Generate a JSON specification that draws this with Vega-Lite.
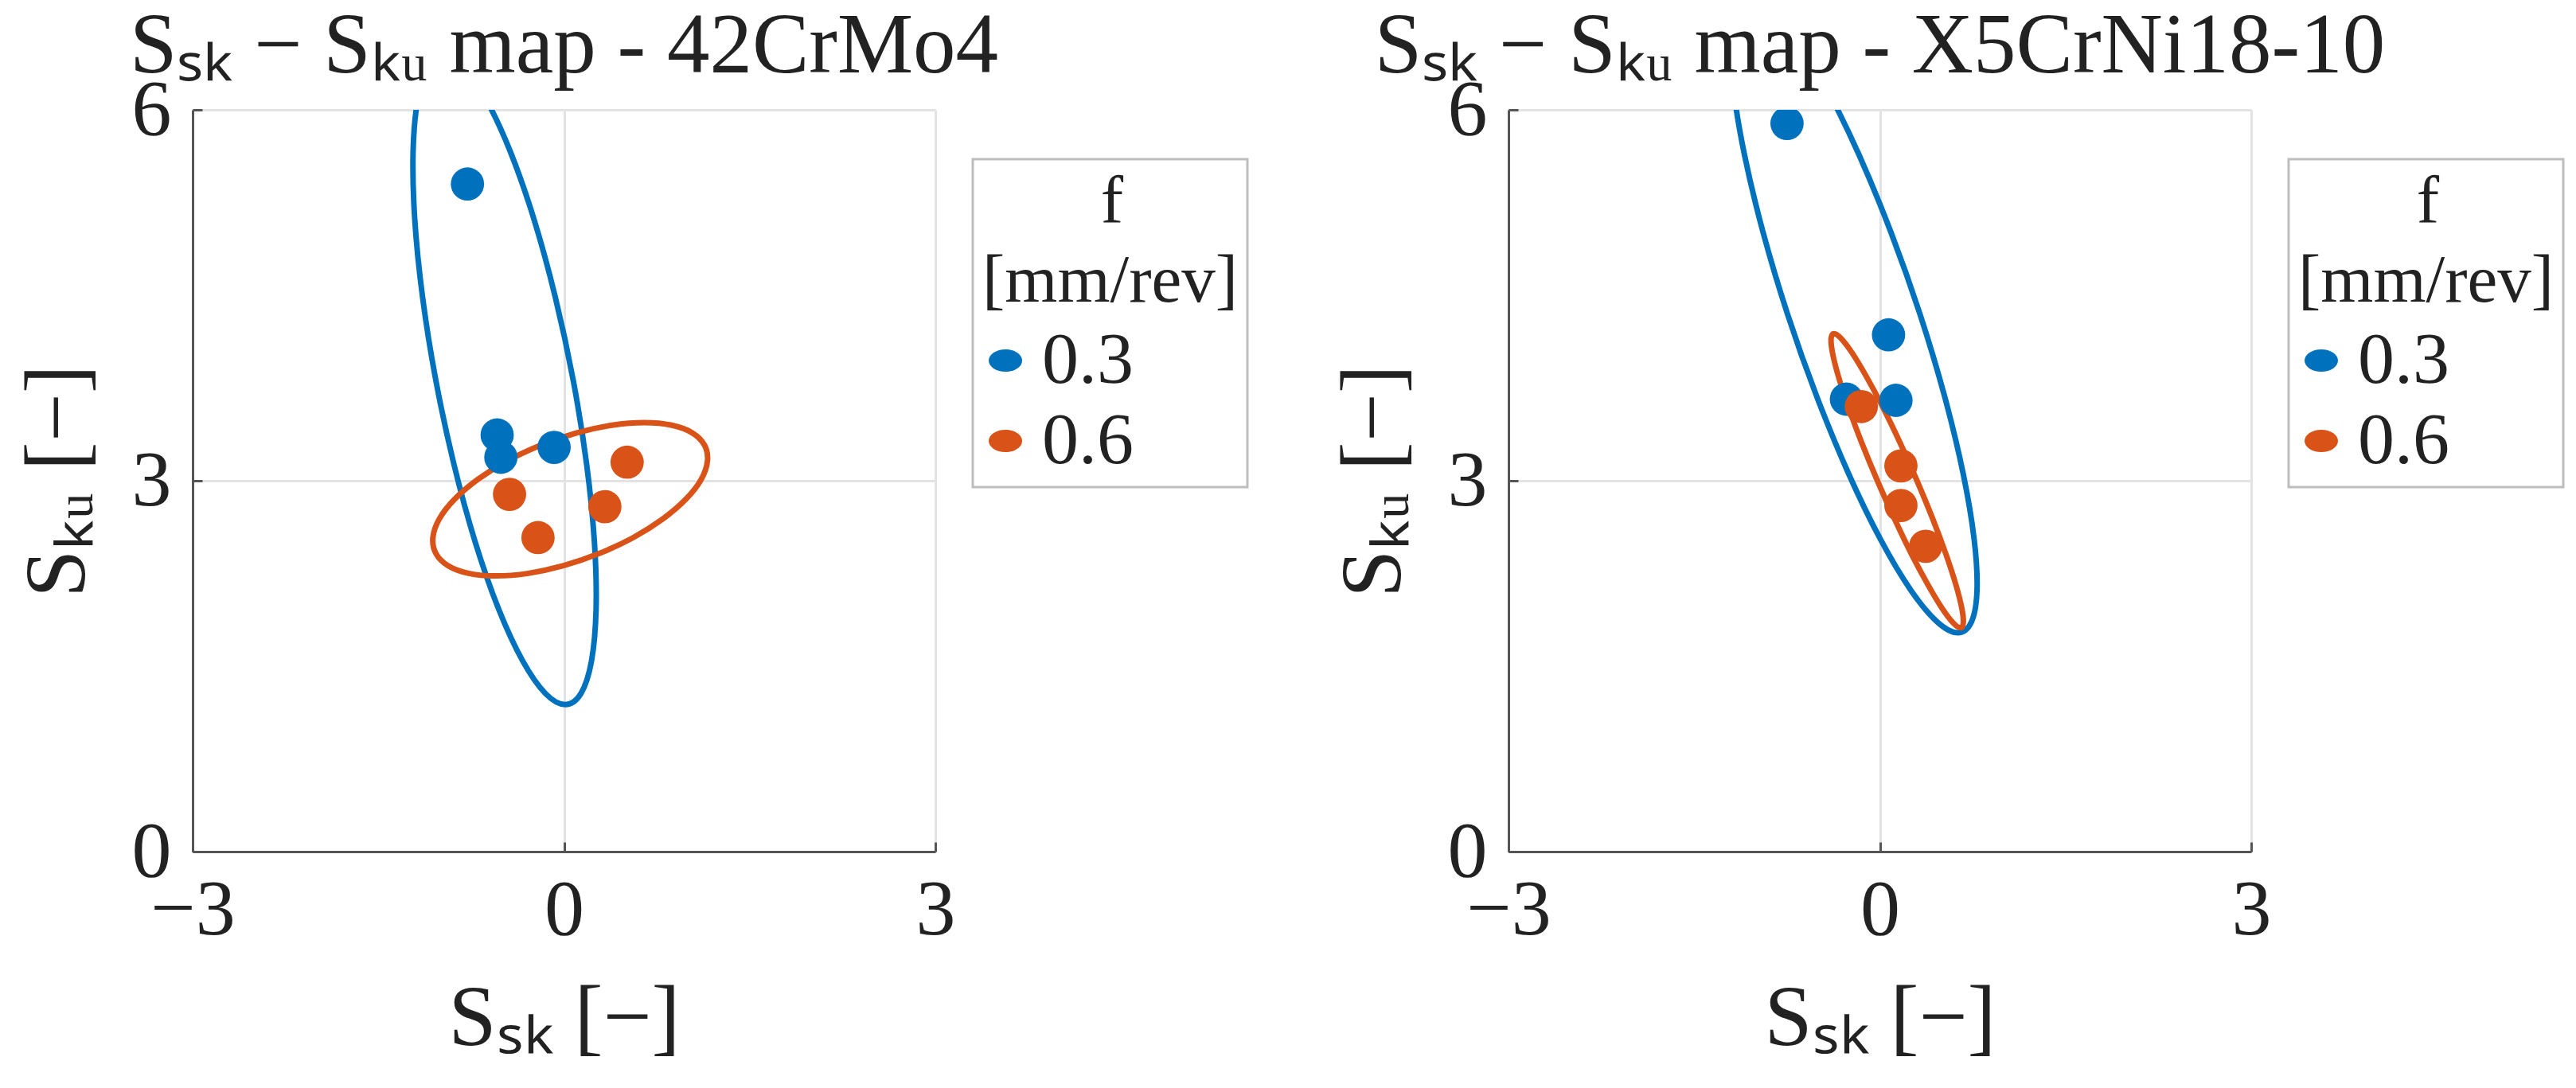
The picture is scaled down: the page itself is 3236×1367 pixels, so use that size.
{
  "$schema": "https://vega.github.io/schema/vega-lite/v6.json",
  "background": "white",
  "padding": {"left": 19, "top": 5, "right": 0, "bottom": 0},
  "spacing": 103,
  "config": {
    "font": "Liberation Serif",
    "view": {"stroke": null},
    "axis": {
      "domainColor": "#555555", "domainWidth": 3,
      "tickColor": "#555555", "tickWidth": 3, "tickSize": -12,
      "gridColor": "#e3e3e3", "gridWidth": 3,
      "labelFont": "Liberation Serif", "labelFontSize": 100, "labelColor": "#222222", "labelFlush": false, "labelLimit": 0,
      "format": "d",
      "titleFont": "Liberation Serif", "titleFontSize": 108, "titleFontWeight": "normal", "titleColor": "#222222"
    },
    "legend": {
      "titleFont": "Liberation Serif", "titleFontSize": 85, "titleFontWeight": "normal", "titleColor": "#222222",
      "titleAlign": "left", "titleAnchor": "start", "titleLineHeight": 100, "titlePadding": 10, "titleLimit": 0,
      "labelFont": "Liberation Serif", "labelFontSize": 92, "labelColor": "#222222", "labelOffset": 0, "labelLimit": 0,
      "symbolOffset": -17,
      "rowPadding": 9, "padding": 12, "strokeColor": "#bdbdbd", "strokeWidth": 3, "fillColor": "white"
    },
    "title": {
      "font": "Liberation Serif", "fontSize": 107, "fontWeight": "normal", "color": "#222222",
      "frame": "group", "anchor": "middle", "baseline": "alphabetic", "offset": -25
    }
  },
  "datasets": {
    "pts": [
      {"panel": "L", "f": "0.3", "ssk": -0.78, "sku": 5.40},
      {"panel": "L", "f": "0.3", "ssk": -0.54, "sku": 3.37},
      {"panel": "L", "f": "0.3", "ssk": -0.51, "sku": 3.19},
      {"panel": "L", "f": "0.3", "ssk": -0.08, "sku": 3.27},
      {"panel": "L", "f": "0.6", "ssk": -0.44, "sku": 2.89},
      {"panel": "L", "f": "0.6", "ssk": -0.21, "sku": 2.54},
      {"panel": "L", "f": "0.6", "ssk": 0.33, "sku": 2.79},
      {"panel": "L", "f": "0.6", "ssk": 0.51, "sku": 3.15},
      {"panel": "R", "f": "0.3", "ssk": -0.75, "sku": 5.89},
      {"panel": "R", "f": "0.3", "ssk": 0.07, "sku": 4.18},
      {"panel": "R", "f": "0.3", "ssk": -0.27, "sku": 3.66},
      {"panel": "R", "f": "0.3", "ssk": 0.13, "sku": 3.65},
      {"panel": "R", "f": "0.6", "ssk": -0.15, "sku": 3.60},
      {"panel": "R", "f": "0.6", "ssk": 0.17, "sku": 3.12},
      {"panel": "R", "f": "0.6", "ssk": 0.17, "sku": 2.80},
      {"panel": "R", "f": "0.6", "ssk": 0.37, "sku": 2.47}
    ],
    "ell": [
      {"panel": "L", "f": "0.3", "i": 0, "ssk": 0.010, "sku": 1.190},
      {"panel": "L", "f": "0.3", "i": 1, "ssk": 0.137, "sku": 1.279},
      {"panel": "L", "f": "0.3", "i": 2, "ssk": 0.222, "sku": 1.541},
      {"panel": "L", "f": "0.3", "i": 3, "ssk": 0.259, "sku": 1.957},
      {"panel": "L", "f": "0.3", "i": 4, "ssk": 0.246, "sku": 2.500},
      {"panel": "L", "f": "0.3", "i": 5, "ssk": 0.183, "sku": 3.132},
      {"panel": "L", "f": "0.3", "i": 6, "ssk": 0.075, "sku": 3.810},
      {"panel": "L", "f": "0.3", "i": 7, "ssk": -0.071, "sku": 4.488},
      {"panel": "L", "f": "0.3", "i": 8, "ssk": -0.244, "sku": 5.120},
      {"panel": "L", "f": "0.3", "i": 9, "ssk": -0.434, "sku": 5.663},
      {"panel": "L", "f": "0.3", "i": 10, "ssk": -0.627, "sku": 6.079},
      {"panel": "L", "f": "0.3", "i": 11, "ssk": -0.810, "sku": 6.341},
      {"panel": "L", "f": "0.3", "i": 12, "ssk": -0.970, "sku": 6.430},
      {"panel": "L", "f": "0.3", "i": 13, "ssk": -1.097, "sku": 6.341},
      {"panel": "L", "f": "0.3", "i": 14, "ssk": -1.182, "sku": 6.079},
      {"panel": "L", "f": "0.3", "i": 15, "ssk": -1.219, "sku": 5.663},
      {"panel": "L", "f": "0.3", "i": 16, "ssk": -1.206, "sku": 5.120},
      {"panel": "L", "f": "0.3", "i": 17, "ssk": -1.143, "sku": 4.488},
      {"panel": "L", "f": "0.3", "i": 18, "ssk": -1.035, "sku": 3.810},
      {"panel": "L", "f": "0.3", "i": 19, "ssk": -0.889, "sku": 3.132},
      {"panel": "L", "f": "0.3", "i": 20, "ssk": -0.716, "sku": 2.500},
      {"panel": "L", "f": "0.3", "i": 21, "ssk": -0.526, "sku": 1.957},
      {"panel": "L", "f": "0.3", "i": 22, "ssk": -0.333, "sku": 1.541},
      {"panel": "L", "f": "0.3", "i": 23, "ssk": -0.150, "sku": 1.279},
      {"panel": "L", "f": "0.6", "i": 0, "ssk": -0.550, "sku": 2.230},
      {"panel": "L", "f": "0.6", "i": 1, "ssk": -0.288, "sku": 2.251},
      {"panel": "L", "f": "0.6", "i": 2, "ssk": -0.003, "sku": 2.313},
      {"panel": "L", "f": "0.6", "i": 3, "ssk": 0.286, "sku": 2.412},
      {"panel": "L", "f": "0.6", "i": 4, "ssk": 0.559, "sku": 2.540},
      {"panel": "L", "f": "0.6", "i": 5, "ssk": 0.797, "sku": 2.690},
      {"panel": "L", "f": "0.6", "i": 6, "ssk": 0.984, "sku": 2.850},
      {"panel": "L", "f": "0.6", "i": 7, "ssk": 1.108, "sku": 3.010},
      {"panel": "L", "f": "0.6", "i": 8, "ssk": 1.159, "sku": 3.160},
      {"panel": "L", "f": "0.6", "i": 9, "ssk": 1.135, "sku": 3.288},
      {"panel": "L", "f": "0.6", "i": 10, "ssk": 1.037, "sku": 3.387},
      {"panel": "L", "f": "0.6", "i": 11, "ssk": 0.871, "sku": 3.449},
      {"panel": "L", "f": "0.6", "i": 12, "ssk": 0.650, "sku": 3.470},
      {"panel": "L", "f": "0.6", "i": 13, "ssk": 0.388, "sku": 3.449},
      {"panel": "L", "f": "0.6", "i": 14, "ssk": 0.103, "sku": 3.387},
      {"panel": "L", "f": "0.6", "i": 15, "ssk": -0.186, "sku": 3.288},
      {"panel": "L", "f": "0.6", "i": 16, "ssk": -0.459, "sku": 3.160},
      {"panel": "L", "f": "0.6", "i": 17, "ssk": -0.697, "sku": 3.010},
      {"panel": "L", "f": "0.6", "i": 18, "ssk": -0.884, "sku": 2.850},
      {"panel": "L", "f": "0.6", "i": 19, "ssk": -1.008, "sku": 2.690},
      {"panel": "L", "f": "0.6", "i": 20, "ssk": -1.059, "sku": 2.540},
      {"panel": "L", "f": "0.6", "i": 21, "ssk": -1.035, "sku": 2.412},
      {"panel": "L", "f": "0.6", "i": 22, "ssk": -0.937, "sku": 2.313},
      {"panel": "L", "f": "0.6", "i": 23, "ssk": -0.771, "sku": 2.251},
      {"panel": "R", "f": "0.3", "i": 0, "ssk": 0.630, "sku": 1.770},
      {"panel": "R", "f": "0.3", "i": 1, "ssk": 0.740, "sku": 1.858},
      {"panel": "R", "f": "0.3", "i": 2, "ssk": 0.785, "sku": 2.115},
      {"panel": "R", "f": "0.3", "i": 3, "ssk": 0.762, "sku": 2.524},
      {"panel": "R", "f": "0.3", "i": 4, "ssk": 0.673, "sku": 3.058},
      {"panel": "R", "f": "0.3", "i": 5, "ssk": 0.524, "sku": 3.679},
      {"panel": "R", "f": "0.3", "i": 6, "ssk": 0.325, "sku": 4.345},
      {"panel": "R", "f": "0.3", "i": 7, "ssk": 0.089, "sku": 5.011},
      {"panel": "R", "f": "0.3", "i": 8, "ssk": -0.167, "sku": 5.633},
      {"panel": "R", "f": "0.3", "i": 9, "ssk": -0.426, "sku": 6.166},
      {"panel": "R", "f": "0.3", "i": 10, "ssk": -0.670, "sku": 6.575},
      {"panel": "R", "f": "0.3", "i": 11, "ssk": -0.883, "sku": 6.832},
      {"panel": "R", "f": "0.3", "i": 12, "ssk": -1.050, "sku": 6.920},
      {"panel": "R", "f": "0.3", "i": 13, "ssk": -1.160, "sku": 6.832},
      {"panel": "R", "f": "0.3", "i": 14, "ssk": -1.205, "sku": 6.575},
      {"panel": "R", "f": "0.3", "i": 15, "ssk": -1.182, "sku": 6.166},
      {"panel": "R", "f": "0.3", "i": 16, "ssk": -1.093, "sku": 5.633},
      {"panel": "R", "f": "0.3", "i": 17, "ssk": -0.944, "sku": 5.011},
      {"panel": "R", "f": "0.3", "i": 18, "ssk": -0.745, "sku": 4.345},
      {"panel": "R", "f": "0.3", "i": 19, "ssk": -0.509, "sku": 3.679},
      {"panel": "R", "f": "0.3", "i": 20, "ssk": -0.253, "sku": 3.058},
      {"panel": "R", "f": "0.3", "i": 21, "ssk": 0.006, "sku": 2.524},
      {"panel": "R", "f": "0.3", "i": 22, "ssk": 0.250, "sku": 2.115},
      {"panel": "R", "f": "0.3", "i": 23, "ssk": 0.463, "sku": 1.858},
      {"panel": "R", "f": "0.6", "i": 0, "ssk": 0.650, "sku": 1.810},
      {"panel": "R", "f": "0.6", "i": 1, "ssk": 0.674, "sku": 1.851},
      {"panel": "R", "f": "0.6", "i": 2, "ssk": 0.662, "sku": 1.969},
      {"panel": "R", "f": "0.6", "i": 3, "ssk": 0.614, "sku": 2.159},
      {"panel": "R", "f": "0.6", "i": 4, "ssk": 0.534, "sku": 2.405},
      {"panel": "R", "f": "0.6", "i": 5, "ssk": 0.427, "sku": 2.692},
      {"panel": "R", "f": "0.6", "i": 6, "ssk": 0.300, "sku": 3.000},
      {"panel": "R", "f": "0.6", "i": 7, "ssk": 0.163, "sku": 3.308},
      {"panel": "R", "f": "0.6", "i": 8, "ssk": 0.024, "sku": 3.595},
      {"panel": "R", "f": "0.6", "i": 9, "ssk": -0.108, "sku": 3.841},
      {"panel": "R", "f": "0.6", "i": 10, "ssk": -0.222, "sku": 4.031},
      {"panel": "R", "f": "0.6", "i": 11, "ssk": -0.311, "sku": 4.149},
      {"panel": "R", "f": "0.6", "i": 12, "ssk": -0.370, "sku": 4.190},
      {"panel": "R", "f": "0.6", "i": 13, "ssk": -0.394, "sku": 4.149},
      {"panel": "R", "f": "0.6", "i": 14, "ssk": -0.382, "sku": 4.031},
      {"panel": "R", "f": "0.6", "i": 15, "ssk": -0.334, "sku": 3.841},
      {"panel": "R", "f": "0.6", "i": 16, "ssk": -0.254, "sku": 3.595},
      {"panel": "R", "f": "0.6", "i": 17, "ssk": -0.147, "sku": 3.308},
      {"panel": "R", "f": "0.6", "i": 18, "ssk": -0.020, "sku": 3.000},
      {"panel": "R", "f": "0.6", "i": 19, "ssk": 0.118, "sku": 2.692},
      {"panel": "R", "f": "0.6", "i": 20, "ssk": 0.256, "sku": 2.405},
      {"panel": "R", "f": "0.6", "i": 21, "ssk": 0.388, "sku": 2.159},
      {"panel": "R", "f": "0.6", "i": 22, "ssk": 0.502, "sku": 1.969},
      {"panel": "R", "f": "0.6", "i": 23, "ssk": 0.591, "sku": 1.851}
    ]
  },
  "resolve": {"scale": {"color": "independent"}, "legend": {"color": "independent"}},
  "hconcat": [
    {
      "width": 933, "height": 932,
      "title": {"text": "Sₛₖ − Sₖᵤ map - 42CrMo4"},
      "layer": [
        {
          "data": {"name": "ell"},
          "transform": [{"filter": "datum.panel === 'L' && datum.f === '0.3'"}],
          "mark": {"type": "line", "interpolate": "cardinal-closed", "strokeWidth": 7, "clip": true, "color": "#0072BD"},
          "encoding": {
            "x": {"field": "ssk", "type": "quantitative", "scale": {"domain": [-3, 3], "nice": false, "zero": false},
                  "axis": {"values": [-3, 0, 3], "grid": true, "labelPadding": 36, "title": "Sₛₖ [−]", "titlePadding": 34}},
            "y": {"field": "sku", "type": "quantitative", "scale": {"domain": [0, 6], "nice": false, "zero": false},
                  "axis": {"values": [0, 3, 6], "grid": true, "labelPadding": 39, "title": "Sₖᵤ [−]", "titlePadding": 37}},
            "order": {"field": "i", "type": "quantitative"}
          }
        },
        {
          "data": {"name": "ell"},
          "transform": [{"filter": "datum.panel === 'L' && datum.f === '0.6'"}],
          "mark": {"type": "line", "interpolate": "cardinal-closed", "strokeWidth": 7, "clip": true, "color": "#D95319"},
          "encoding": {
            "x": {"field": "ssk", "type": "quantitative"},
            "y": {"field": "sku", "type": "quantitative"},
            "order": {"field": "i", "type": "quantitative"}
          }
        },
        {
          "data": {"name": "pts"},
          "transform": [{"filter": "datum.panel === 'L'"}],
          "mark": {"type": "point", "filled": true, "opacity": 1, "size": 1750, "clip": true},
          "encoding": {
            "x": {"field": "ssk", "type": "quantitative"},
            "y": {"field": "sku", "type": "quantitative"},
            "color": {"field": "f", "type": "nominal", "scale": {"domain": ["0.3", "0.6"], "range": ["#0072BD", "#D95319"]},
                      "legend": {"orient": "none", "legendX": 980, "legendY": 62, "title": ["\u200b\u00a0\u00a0\u00a0\u00a0\u00a0\u00a0\u00a0f", "[mm/rev]"],
                                 "symbolType": "M-1,0A1,0.67,0,1,1,1,0A1,0.67,0,1,1,-1,0Z", "symbolSize": 1764}}
          }
        }
      ]
    },
    {
      "width": 933, "height": 932,
      "title": {"text": "Sₛₖ − Sₖᵤ map - X5CrNi18-10"},
      "layer": [
        {
          "data": {"name": "ell"},
          "transform": [{"filter": "datum.panel === 'R' && datum.f === '0.3'"}],
          "mark": {"type": "line", "interpolate": "cardinal-closed", "strokeWidth": 7, "clip": true, "color": "#0072BD"},
          "encoding": {
            "x": {"field": "ssk", "type": "quantitative", "scale": {"domain": [-3, 3], "nice": false, "zero": false},
                  "axis": {"values": [-3, 0, 3], "grid": true, "labelPadding": 36, "title": "Sₛₖ [−]", "titlePadding": 34}},
            "y": {"field": "sku", "type": "quantitative", "scale": {"domain": [0, 6], "nice": false, "zero": false},
                  "axis": {"values": [0, 3, 6], "grid": true, "labelPadding": 39, "title": "Sₖᵤ [−]", "titlePadding": 37}},
            "order": {"field": "i", "type": "quantitative"}
          }
        },
        {
          "data": {"name": "ell"},
          "transform": [{"filter": "datum.panel === 'R' && datum.f === '0.6'"}],
          "mark": {"type": "line", "interpolate": "cardinal-closed", "strokeWidth": 7, "clip": true, "color": "#D95319"},
          "encoding": {
            "x": {"field": "ssk", "type": "quantitative"},
            "y": {"field": "sku", "type": "quantitative"},
            "order": {"field": "i", "type": "quantitative"}
          }
        },
        {
          "data": {"name": "pts"},
          "transform": [{"filter": "datum.panel === 'R'"}],
          "mark": {"type": "point", "filled": true, "opacity": 1, "size": 1750, "clip": true},
          "encoding": {
            "x": {"field": "ssk", "type": "quantitative"},
            "y": {"field": "sku", "type": "quantitative"},
            "color": {"field": "f", "type": "nominal", "scale": {"domain": ["0.3", "0.6"], "range": ["#0072BD", "#D95319"]},
                      "legend": {"orient": "none", "legendX": 980, "legendY": 62, "title": ["\u200b\u00a0\u00a0\u00a0\u00a0\u00a0\u00a0\u00a0f", "[mm/rev]"],
                                 "symbolType": "M-1,0A1,0.67,0,1,1,1,0A1,0.67,0,1,1,-1,0Z", "symbolSize": 1764}}
          }
        }
      ]
    }
  ]
}
